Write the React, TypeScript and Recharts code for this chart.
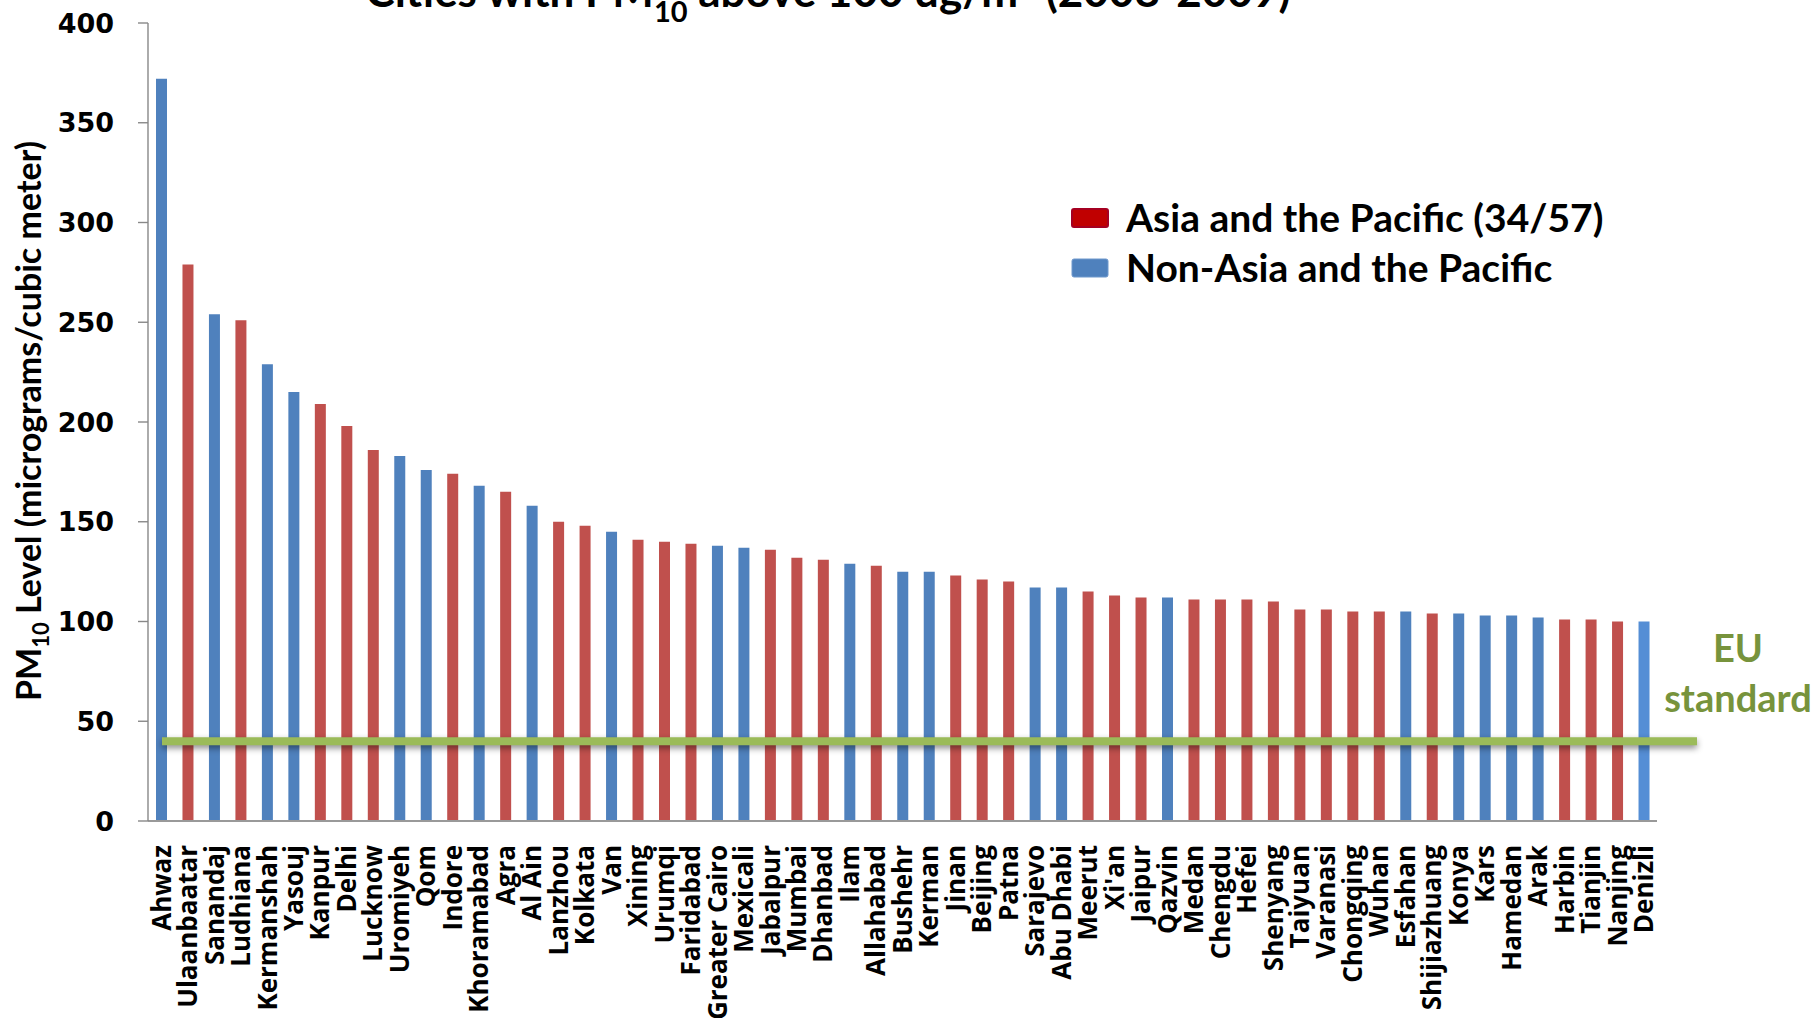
import React from 'react';
import { BarChart, Bar, XAxis, YAxis, Cell, ReferenceLine } from 'recharts';

const cities = ['Ahwaz', 'Ulaanbaatar', 'Sanandaj', 'Ludhiana', 'Kermanshah', 'Yasouj', 'Kanpur', 'Delhi', 'Lucknow', 'Uromiyeh', 'Qom', 'Indore', 'Khoramabad', 'Agra', 'Al Ain', 'Lanzhou', 'Kolkata', 'Van', 'Xining', 'Urumqi', 'Faridabad', 'Greater Cairo', 'Mexicali', 'Jabalpur', 'Mumbai', 'Dhanbad', 'Ilam', 'Allahabad', 'Bushehr', 'Kerman', 'Jinan', 'Beijing', 'Patna', 'Sarajevo', 'Abu Dhabi', 'Meerut', "Xi'an", 'Jaipur', 'Qazvin', 'Medan', 'Chengdu', 'Hefei', 'Shenyang', 'Taiyuan', 'Varanasi', 'Chongqing', 'Wuhan', 'Esfahan', 'Shijiazhuang', 'Konya', 'Kars', 'Hamedan', 'Arak', 'Harbin', 'Tianjin', 'Nanjing', 'Denizli'];

const pm10 = [372, 279, 254, 251, 229, 215, 209, 198, 186, 183, 176, 174, 168, 165, 158, 150, 148, 145, 141, 140, 139, 138, 137, 136, 132, 131, 129, 128, 125, 125, 123, 121, 120, 117, 117, 115, 113, 112, 112, 111, 111, 111, 110, 106, 106, 105, 105, 105, 104, 104, 103, 103, 102, 101, 101, 100, 100];

// A = Asia and the Pacific, N = Non-Asia and the Pacific
const regions = ['N', 'A', 'N', 'A', 'N', 'N', 'A', 'A', 'A', 'N', 'N', 'A', 'N', 'A', 'N', 'A', 'A', 'N', 'A', 'A', 'A', 'N', 'N', 'A', 'A', 'A', 'N', 'A', 'N', 'N', 'A', 'A', 'A', 'N', 'N', 'A', 'A', 'A', 'N', 'A', 'A', 'A', 'A', 'A', 'A', 'A', 'A', 'N', 'A', 'N', 'N', 'N', 'N', 'A', 'A', 'A', 'N'];

const yTicks = [0, 50, 100, 150, 200, 250, 300, 350, 400];
const EU_STANDARD = 40;
const legendLabels = ['Asia and the Pacific (34/57)', 'Non-Asia and the Pacific'];

const data = cities.map((city, i) => ({ city, value: pm10[i], region: regions[i] }));

const RED = '#C0504D';
const BLUE = '#4F81BD';
const BLUE_LAST = '#558ED5';

const CityTick = (props: any) => {
  const { x, y, payload } = props;
  return (
    <text
      x={0}
      y={0}
      transform={`translate(${x},${y}) rotate(-90)`}
      textAnchor="end"
      dy="0.36em"
      fontFamily="'Open Sans', sans-serif"
      fontWeight={700}
      fontSize={26}
      fill="#000"
    >
      {payload.value}
    </text>
  );
};

const EuLine = (p: any) => (
  <line
    x1={p.x1 + 14}
    y1={p.y1}
    x2={p.x2 + 40}
    y2={p.y2}
    stroke="#9BBB59"
    strokeWidth={8}
    style={{ filter: 'drop-shadow(0px 3px 3px rgba(0,0,0,0.45))' }}
  />
);

export default function App() {
  const font = "Lato, 'Open Sans', sans-serif";
  return (
    <div style={{ position: 'absolute', left: 0, top: 0, width: 1817, height: 1018, background: '#fff' }}>
      <BarChart width={1817} height={1018} data={data} margin={{ top: 23, right: 160, bottom: 0, left: 0 }} barCategoryGap={0}>
        <XAxis
          dataKey="city"
          interval={0}
          height={197}
          tickLine={false}
          tickSize={0}
          tickMargin={24}
          tick={<CityTick />}
          axisLine={{ stroke: '#999', strokeWidth: 2 }}
        />
        <YAxis
          width={148}
          domain={[0, 400]}
          ticks={yTicks}
          interval={0}
          tickSize={10}
          tickMargin={24}
          axisLine={{ stroke: '#888', strokeWidth: 1.4 }}
          tickLine={{ stroke: '#888', strokeWidth: 1.4 }}
          tick={{ fontFamily: "'DejaVu Sans', sans-serif", fontWeight: 700, fontSize: 27, fill: '#000' }}
        />
        <Bar dataKey="value" barSize={11} isAnimationActive={false}>
          {data.map((d, i) => (
            <Cell key={d.city} fill={d.region === 'A' ? RED : i === data.length - 1 ? BLUE_LAST : BLUE} />
          ))}
        </Bar>
        <ReferenceLine y={EU_STANDARD} ifOverflow="visible" shape={EuLine} />
      </BarChart>
      <svg width={1817} height={1018} style={{ position: 'absolute', left: 0, top: 0, pointerEvents: 'none' }}>
        <text x={828} y={7} textAnchor="middle" fontFamily={font} fontWeight={700} fontSize={44} fill="#000">
          Cities with PM<tspan dy={15} fontSize={29}>10</tspan>
          <tspan dy={-15}> above 100 ug/m</tspan>
          <tspan dy={-15} fontSize={29}>3</tspan>
          <tspan dy={15}> (2008-2009)</tspan>
        </text>
        <text transform="translate(29,421) rotate(-90)" textAnchor="middle" dy="0.35em" fontFamily={font} fontWeight={700} fontSize={34} fill="#000">
          PM<tspan dy={8} fontSize={22}>10</tspan>
          <tspan dy={-8}> Level (micrograms/cubic meter)</tspan>
        </text>
        <rect x={1072} y={209} width={36} height={18} rx={2} fill="#C00000" stroke="#A50021" strokeWidth={2} />
        <text x={1126} y={218} dy="0.35em" fontFamily={font} fontWeight={700} fontSize={39} fill="#000">{legendLabels[0]}</text>
        <rect x={1072} y={259} width={36} height={18} rx={2} fill={BLUE} stroke="#6F98CC" strokeWidth={1} />
        <text x={1126} y={268} dy="0.35em" fontFamily={font} fontWeight={700} fontSize={39} fill="#000">{legendLabels[1]}</text>
        <text x={1738} y={649} dy="0.35em" textAnchor="middle" fontFamily={font} fontWeight={700} fontSize={38} fill="#77933C">EU</text>
        <text x={1738} y={699} dy="0.35em" textAnchor="middle" fontFamily={font} fontWeight={700} fontSize={38} fill="#77933C">standard</text>
      </svg>
    </div>
  );
}
